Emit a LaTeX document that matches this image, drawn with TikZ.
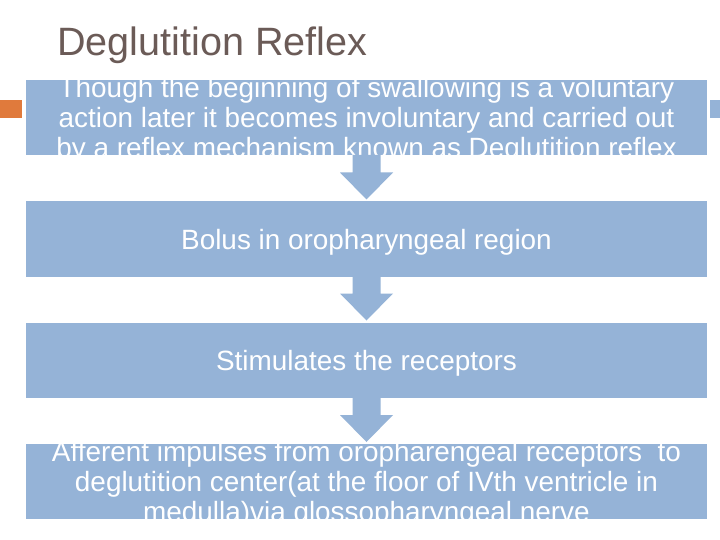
\documentclass[tikz,border=0pt]{standalone}
\usepackage{fontspec}
\setmainfont{Liberation Sans}
\usetikzlibrary{calc}
\definecolor{boxblue}{HTML}{95B3D7}
\definecolor{accentorange}{HTML}{E07A3C}
\definecolor{titlegray}{HTML}{6B5B57}
\tikzset{
  stagebox/.style={fill=boxblue, draw=none, minimum width=681bp, minimum height=75bp, inner sep=0pt, outer sep=0pt},
  stagetext/.style={text=white, align=center, inner sep=0pt, font=\fontsize{28}{30}\selectfont},
  flowarrow/.style={fill=boxblue, draw=none}
}
\newcommand\flowconnect[2]{%
  \fill[flowarrow] ($(#1.south)+(-14,0)$) -- ($(#2.north)+(-14,-29)$) -- ($(#2.north)+(-26.5,-29)$)
    -- ($(#2.north)+(0,-2)$) -- ($(#2.north)+(26.5,-29)$) -- ($(#2.north)+(14,-29)$)
    -- ($(#1.south)+(14,0)$) -- cycle;}
\begin{document}
\begin{tikzpicture}[x=1bp,y=-1bp]
\useasboundingbox (0,0) rectangle (720,540);
\fill[white] (0,0) rectangle (720,540);
% title
\node[anchor=base west, inner sep=0pt, text=titlegray, font=\fontsize{39.7}{44}\selectfont] (title) at (57,56) {Deglutition Reflex};
% side accents
\fill[accentorange] (0,100) rectangle (22,118);
\fill[boxblue] (710,100) rectangle (720,118);
% boxes
\node[stagebox] (b1) at (366.5,117.5) {};
\node[stagebox] (b2) at (366.5,239) {};
\node[stagebox] (b3) at (366.5,360) {};
\node[stagebox] (b4) at (366.5,481.5) {};
% texts
\node[stagetext] (t1) at ($(b1.center)+(0,3)$) {Though the beginning of swallowing is a voluntary\\action later it becomes involuntary and carried out\\by a reflex mechanism known as Deglutition reflex};
\node[stagetext] (t2) at ($(b2.center)+(0,3)$) {Bolus in oropharyngeal region};
\node[stagetext] (t3) at ($(b3.center)+(0,3)$) {Stimulates the receptors};
\node[stagetext] (t4) at ($(b4.center)+(0,3)$) {Afferent impulses from oropharengeal receptors\ \ to\\deglutition center(at the floor of IVth ventricle in\\medulla)via glossopharyngeal nerve};
% connectors
\flowconnect{b1}{b2}
\flowconnect{b2}{b3}
\flowconnect{b3}{b4}
\end{tikzpicture}
\end{document}
